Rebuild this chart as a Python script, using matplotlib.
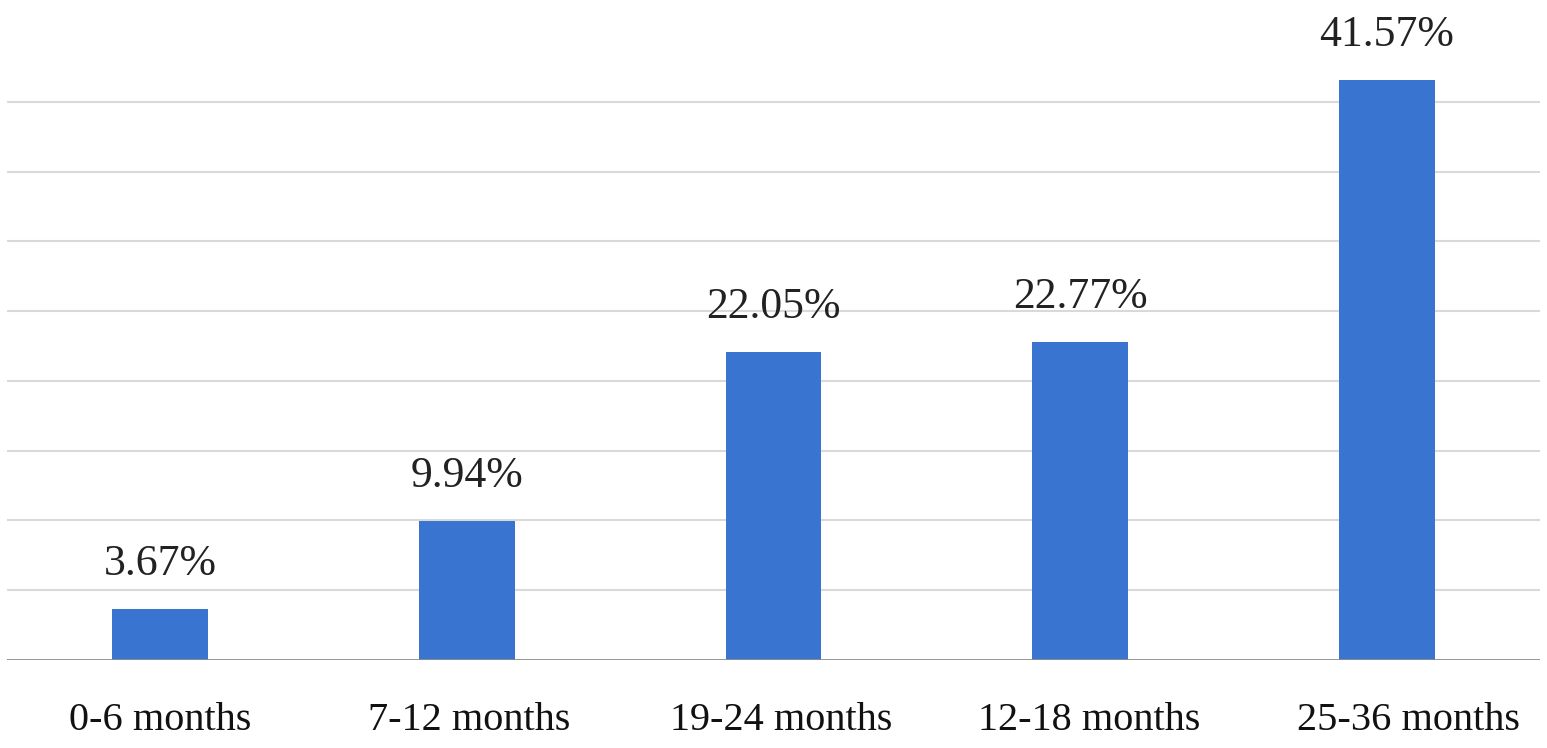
import matplotlib
matplotlib.use("Agg")
import matplotlib.pyplot as plt
import matplotlib.transforms as mtransforms
import numpy as np

categories = ["0-6 months", "7-12 months", "19-24 months", "12-18 months", "25-36 months"]
values = [3.67, 9.94, 22.05, 22.77, 41.57]
value_labels = ["3.67%", "9.94%", "22.05%", "22.77%", "41.57%"]
gridlines = [5, 10, 15, 20, 25, 30, 35, 40]

# small horizontal layout nudges of the category labels (pixels), as in the reference
label_dx_px = [0, 2, 8, 9, 22]

plt.rcParams['font.family'] = ['Liberation Serif', 'DejaVu Serif']

fig = plt.figure(figsize=(15.47, 7.48), dpi=100)
W, H = 1547, 748
ax = fig.add_axes([7 / W, (H - 660) / H, (1540 - 7) / W, 628 / H])

x = np.arange(len(categories))
ax.bar(x, values, width=0.312, color="#3874D0", zorder=3)

for g in gridlines:
    ax.axhline(g, color="#D9D9D9", lw=1.5, zorder=1)
ax.axhline(0, color="#8C8C8C", lw=2, zorder=4)

for xi, v, lab in zip(x, values, value_labels):
    ax.annotate(lab, (xi, v), xytext=(0, 24.5), textcoords="offset points",
                ha="center", va="baseline", fontsize=31.5, color="#222222")

ax.set_xlim(-0.5, len(categories) - 0.5)
ax.set_ylim(0, 45)
ax.set_xticks(x)
ax.set_xticklabels(categories, fontsize=29, color="#111111")
ax.tick_params(axis="x", length=0, pad=30.5)
for lbl, dx in zip(ax.get_xticklabels(), label_dx_px):
    lbl.set_transform(lbl.get_transform() + mtransforms.ScaledTranslation(dx / 100, 0, fig.dpi_scale_trans))
ax.set_yticks([])
for s in ax.spines.values():
    s.set_visible(False)

fig.savefig("out.png", dpi=100, facecolor="white")
